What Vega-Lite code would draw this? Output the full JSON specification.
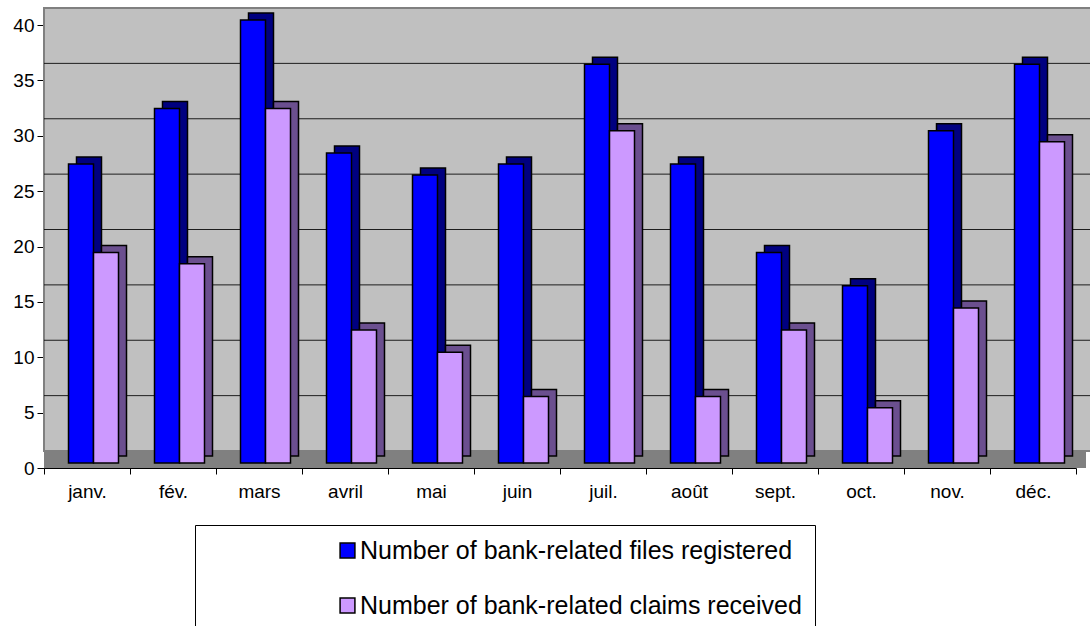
{
  "$schema": "https://vega.github.io/schema/vega-lite/v6.json",
  "autosize": {"type": "none"},
  "width": 1032,
  "height": 443,
  "padding": {"left": 44, "top": 25, "right": 14, "bottom": 158},
  "background": "white",
  "config": {
    "font": "Liberation Sans",
    "view": {"stroke": null, "fill": "#c0c0c0"},
    "axis": {"labelFont": "Liberation Sans", "labelColor": "black", "domainColor": "black", "tickColor": "black", "grid": false, "title": null}
  },
  "datasets": {
    "main": [
      {"month": "janv.", "series": "Number of bank-related files registered", "value": 27},
      {"month": "janv.", "series": "Number of bank-related claims received", "value": 19},
      {"month": "fév.", "series": "Number of bank-related files registered", "value": 32},
      {"month": "fév.", "series": "Number of bank-related claims received", "value": 18},
      {"month": "mars", "series": "Number of bank-related files registered", "value": 40},
      {"month": "mars", "series": "Number of bank-related claims received", "value": 32},
      {"month": "avril", "series": "Number of bank-related files registered", "value": 28},
      {"month": "avril", "series": "Number of bank-related claims received", "value": 12},
      {"month": "mai", "series": "Number of bank-related files registered", "value": 26},
      {"month": "mai", "series": "Number of bank-related claims received", "value": 10},
      {"month": "juin", "series": "Number of bank-related files registered", "value": 27},
      {"month": "juin", "series": "Number of bank-related claims received", "value": 6},
      {"month": "juil.", "series": "Number of bank-related files registered", "value": 36},
      {"month": "juil.", "series": "Number of bank-related claims received", "value": 30},
      {"month": "août", "series": "Number of bank-related files registered", "value": 27},
      {"month": "août", "series": "Number of bank-related claims received", "value": 6},
      {"month": "sept.", "series": "Number of bank-related files registered", "value": 19},
      {"month": "sept.", "series": "Number of bank-related claims received", "value": 12},
      {"month": "oct.", "series": "Number of bank-related files registered", "value": 16},
      {"month": "oct.", "series": "Number of bank-related claims received", "value": 5},
      {"month": "nov.", "series": "Number of bank-related files registered", "value": 30},
      {"month": "nov.", "series": "Number of bank-related claims received", "value": 14},
      {"month": "déc.", "series": "Number of bank-related files registered", "value": 36},
      {"month": "déc.", "series": "Number of bank-related claims received", "value": 29}
    ]
  },
  "layer": [
    {
      "data": {"values": [{"lo": 0, "hi": 40}]},
      "mark": {"type": "rect", "fill": "#c0c0c0", "stroke": "#808080", "strokeWidth": 2, "xOffset": 21, "x2Offset": 21, "yOffset": -17, "y2Offset": -17},
      "encoding": {
        "y": {"field": "hi", "type": "quantitative", "scale": {"domain": [0, 40], "nice": false}},
        "y2": {"field": "lo"}
      }
    },
    {
      "data": {"values": [{"v": 5}, {"v": 10}, {"v": 15}, {"v": 20}, {"v": 25}, {"v": 30}, {"v": 35}]},
      "mark": {"type": "rule", "color": "black", "strokeWidth": 1, "opacity": 0.85, "xOffset": 21, "x2Offset": 21, "yOffset": -17},
      "encoding": {"y": {"field": "v", "type": "quantitative"}}
    },
    {
      "data": {"values": [{"lo": 0, "hi": 0}]},
      "mark": {"type": "rect", "fill": "#808080", "xOffset": 10, "x2Offset": 10, "y2Offset": -17},
      "encoding": {
        "y": {"field": "lo", "type": "quantitative"},
        "y2": {"field": "hi"}
      }
    },
    {
      "data": {"name": "main"},
      "transform": [{"filter": "datum.series === 'Number of bank-related files registered'"}],
      "mark": {"type": "bar", "width": 25, "fill": "#000080", "stroke": "black", "strokeWidth": 1.5, "xOffset": 2, "yOffset": -12, "y2Offset": -12},
      "encoding": {
        "x": {"field": "month", "type": "nominal", "sort": null, "scale": {"paddingInner": 0, "paddingOuter": 0},
          "axis": {"labelAngle": 0, "labelFontSize": 19, "tickSize": 6, "labelPadding": 8, "tickBand": "extent", "ticks": true}},
        "y": {"field": "value", "type": "quantitative",
          "axis": {"values": [0, 5, 10, 15, 20, 25, 30, 35, 40], "labelFontSize": 19, "tickSize": 7, "labelPadding": 3}}
      }
    },
    {
      "data": {"name": "main"},
      "transform": [{"filter": "datum.series === 'Number of bank-related claims received'"}],
      "mark": {"type": "bar", "width": 25, "fill": "#6b4f8f", "stroke": "black", "strokeWidth": 1.5, "xOffset": 27, "yOffset": -12, "y2Offset": -12},
      "encoding": {
        "x": {"field": "month", "type": "nominal", "sort": null},
        "y": {"field": "value", "type": "quantitative"}
      }
    },
    {
      "data": {"name": "main"},
      "transform": [{"filter": "datum.series === 'Number of bank-related files registered'"}],
      "mark": {"type": "bar", "width": 25, "stroke": "black", "strokeWidth": 1.5, "xOffset": -6, "yOffset": -5, "y2Offset": -5},
      "encoding": {
        "x": {"field": "month", "type": "nominal", "sort": null},
        "y": {"field": "value", "type": "quantitative"},
        "color": {"field": "series", "type": "nominal",
          "scale": {"domain": ["Number of bank-related files registered", "Number of bank-related claims received"], "range": ["#0000ff", "#cc99ff"]},
          "legend": {"title": null, "orient": "none", "legendX": 151, "legendY": 500, "direction": "vertical",
            "strokeColor": "black", "fillColor": "white", "padding": 13, "symbolType": "square", "symbolSize": 220,
            "symbolStrokeColor": "black", "symbolStrokeWidth": 1.5, "symbolOffset": 127, "labelOffset": 0,
            "labelFontSize": 25, "labelFont": "Liberation Sans", "labelColor": "black", "labelLimit": 600, "rowPadding": 29}}
      }
    },
    {
      "data": {"name": "main"},
      "transform": [{"filter": "datum.series === 'Number of bank-related claims received'"}],
      "mark": {"type": "bar", "width": 25, "stroke": "black", "strokeWidth": 1.5, "xOffset": 19, "yOffset": -5, "y2Offset": -5},
      "encoding": {
        "x": {"field": "month", "type": "nominal", "sort": null},
        "y": {"field": "value", "type": "quantitative"},
        "color": {"field": "series", "type": "nominal"}
      }
    }
  ]
}
